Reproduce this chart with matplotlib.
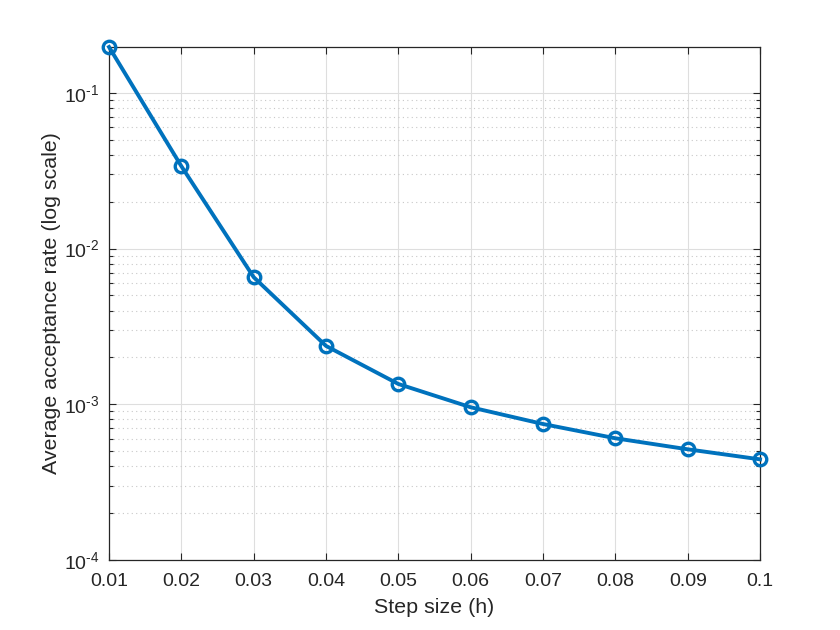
import matplotlib
matplotlib.use("Agg")
import matplotlib.pyplot as plt
from matplotlib.ticker import LogLocator, FuncFormatter, NullFormatter, FixedLocator
import math

plt.rcParams['font.family'] = ['Liberation Sans', 'DejaVu Sans']
plt.rcParams['mathtext.fontset'] = 'custom'
plt.rcParams['mathtext.rm'] = 'Liberation Sans'
plt.rcParams['mathtext.it'] = 'Liberation Sans:italic'
plt.rcParams['mathtext.bf'] = 'Liberation Sans:bold'

step_sizes = [0.01, 0.02, 0.03, 0.04, 0.05, 0.06, 0.07, 0.08, 0.09, 0.10]
acceptance = [0.197, 0.0338, 0.00655, 0.00237, 0.00135, 0.000957, 0.000747,
              0.000605, 0.000514, 0.000443]
x_ticks = [0.01, 0.02, 0.03, 0.04, 0.05, 0.06, 0.07, 0.08, 0.09, 0.1]
x_tick_labels = ['0.01', '0.02', '0.03', '0.04', '0.05', '0.06', '0.07', '0.08', '0.09', '0.1']
y_ticks = [1e-4, 1e-3, 1e-2, 1e-1]

axcol = '#262626'
fig = plt.figure(figsize=(8.4, 6.3), dpi=100)
ax = fig.add_axes([0.1298, 0.1111, 0.7750, 0.8143])

ax.plot(step_sizes, acceptance, '-o', color='#0072BD', linewidth=2.8,
        markersize=9, markeredgewidth=2.4, markerfacecolor='none', zorder=3,
        clip_on=False)

ax.set_yscale('log')
ax.set_xlim(0.01, 0.1)
ax.set_ylim(1e-4, acceptance[0])
ax.set_xticks(x_ticks)
ax.set_xticklabels(x_tick_labels)


def fmt(v, pos):
    e = int(round(math.log10(v)))
    return r'$\mathregular{10^{\text{-}%d}}$' % (-e) if e < 0 else r'$\mathregular{10^{%d}}$' % e


ax.yaxis.set_major_locator(FixedLocator(y_ticks))
ax.yaxis.set_major_formatter(FuncFormatter(fmt))
ax.yaxis.set_minor_locator(LogLocator(base=10, subs=range(2, 10), numticks=20))
ax.yaxis.set_minor_formatter(NullFormatter())

ax.grid(True, which='major', color='#dedede', linewidth=0.8, linestyle='-')
ax.grid(True, which='minor', axis='y', color='#c8c8c8', linewidth=0.8, linestyle=(0, (1, 3)))
ax.set_axisbelow(True)

ax.tick_params(which='both', direction='in', top=True, right=True, colors=axcol,
               labelsize=14, width=0.8)
ax.tick_params(which='major', length=5)
ax.tick_params(which='minor', length=3)
ax.tick_params(axis='x', which='major', pad=9)
ax.tick_params(axis='y', which='major', pad=7)
for s in ax.spines.values():
    s.set_color(axcol)
    s.set_linewidth(0.9)

ax.set_xlabel('Step size (h)', fontsize=15.4, color=axcol, labelpad=6)
ax.set_ylabel('Average acceptance rate (log scale)', fontsize=15.4, color=axcol, labelpad=2)

fig.savefig('out.png', dpi=100, facecolor='white')
